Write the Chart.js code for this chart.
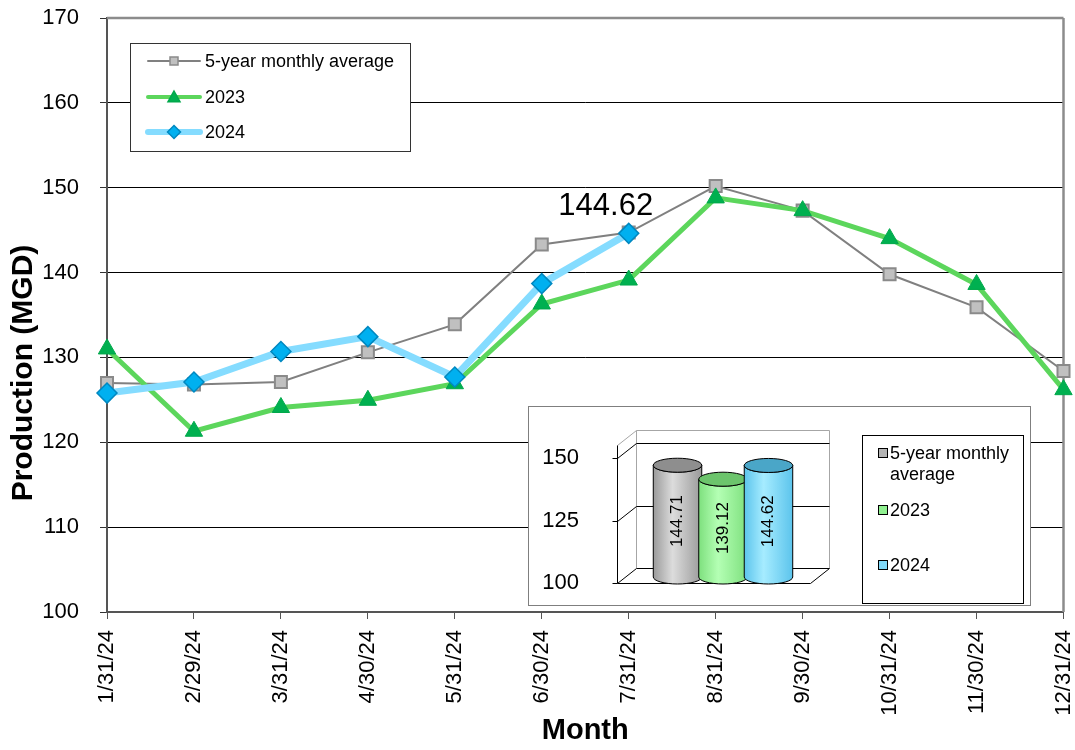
<!DOCTYPE html>
<html>
<head>
<meta charset="utf-8">
<title>Production (MGD)</title>
<script src="https://cdn.jsdelivr.net/npm/chart.js"></script>
<style>
  body { margin: 0; background: #fff; }
  #wrap { position: relative; width: 1075px; height: 750px; }
  #inset { position: absolute; left: 528px; top: 406px; width: 503px; height: 200px;
           box-sizing: border-box; border: 1px solid #7f7f7f; background: #fff; }
  #inset canvas { display: block; }
</style>
</head>
<body>
<div id="wrap">
  <canvas id="main" width="1075" height="750"></canvas>
  <div id="inset"><canvas id="mini" width="501" height="198"></canvas></div>
</div>
<script>
'use strict';

// --- data ---
const months = ['1/31/24', '2/29/24', '3/31/24', '4/30/24', '5/31/24', '6/30/24',
                '7/31/24', '8/31/24', '9/30/24', '10/31/24', '11/30/24', '12/31/24'];
const avg5 = [127.0, 126.8, 127.1, 130.6, 133.9, 143.3, 144.71, 150.2, 147.3, 139.8, 135.9, 128.4];
const y2023 = [131.0, 121.3, 124.1, 124.95, 126.9, 136.3, 139.12, 148.8, 147.3, 144.0, 138.6, 126.2];
const y2024 = [125.8, 127.1, 130.7, 132.45, 127.7, 138.7, 144.62, null, null, null, null, null];
const seriesNames = ['5-year monthly average', '2023', '2024'];
const yTicks = [100, 110, 120, 130, 140, 150, 160, 170];
const labelIndex = 6; // month that carries the value label

const insetValues = [144.71, 139.12, 144.62];
const insetNames = [['5-year monthly', 'average'], ['2023'], ['2024']];
const insetTicks = [100, 125, 150];

const FONT = '"Liberation Sans", Arial, Helvetica, sans-serif';
Chart.defaults.font.family = FONT;
Chart.defaults.color = '#000';

function $(id) { return document.getElementById(id); }

function line(ctx, x1, y1, x2, y2) {
  ctx.beginPath();
  ctx.moveTo(x1, y1);
  ctx.lineTo(x2, y2);
  ctx.stroke();
}

function marker(ctx, style, x, y, r, fill, stroke, lw) {
  ctx.save();
  ctx.fillStyle = fill;
  ctx.strokeStyle = stroke;
  ctx.lineWidth = lw;
  ctx.beginPath();
  if (style === 'rect') {
    ctx.rect(x - r, y - r, r * 2, r * 2);
  } else if (style === 'triangle') {
    ctx.moveTo(x, y - r);
    ctx.lineTo(x + r, y + r * 0.8);
    ctx.lineTo(x - r, y + r * 0.8);
    ctx.closePath();
  } else {
    ctx.moveTo(x, y - r);
    ctx.lineTo(x + r, y);
    ctx.lineTo(x, y + r);
    ctx.lineTo(x - r, y);
    ctx.closePath();
  }
  ctx.fill();
  ctx.stroke();
  ctx.restore();
}

// --- main line chart ---
const mainExtras = {
  id: 'mainExtras',
  beforeDatasetsDraw(chart) {
    const { ctx, chartArea: a } = chart;
    ctx.save();
    ctx.strokeStyle = '#8c8c8c';
    ctx.lineWidth = 2.5;
    line(ctx, a.left, a.top, a.right, a.top);
    line(ctx, a.right, a.top, a.right, a.bottom);
    ctx.restore();
  },
  afterDatasetsDraw(chart) {
    const { ctx } = chart;
    const pt = chart.getDatasetMeta(2).data[labelIndex];
    ctx.save();
    ctx.font = '31px ' + FONT;
    ctx.fillStyle = '#000';
    ctx.textAlign = 'center';
    ctx.textBaseline = 'middle';
    ctx.fillText(y2024[labelIndex].toFixed(2), pt.x - 23, pt.y - 27);
    ctx.restore();
  },
  afterDraw(chart) {
    const { ctx } = chart;
    ctx.save();
    // y axis title
    ctx.translate(24, 373);
    ctx.rotate(-Math.PI / 2);
    ctx.font = 'bold 30px ' + FONT;
    ctx.fillStyle = '#000';
    ctx.textAlign = 'center';
    ctx.textBaseline = 'middle';
    ctx.fillText('Production (MGD)', 0, 0);
    ctx.restore();

    // legend box
    ctx.save();
    ctx.fillStyle = '#fff';
    ctx.fillRect(130, 43, 280, 108);
    ctx.strokeStyle = '#333';
    ctx.lineWidth = 1;
    ctx.strokeRect(130.5, 43.5, 280, 108);
    const rows = [61, 97, 132];
    const lw = [2, 4, 6];
    const mr = [4, 6, 6.5];
    chart.data.datasets.forEach((ds, i) => {
      const y = rows[i];
      ctx.strokeStyle = ds.borderColor;
      ctx.lineWidth = lw[i];
      ctx.lineCap = 'round';
      line(ctx, 148, y, 200, y);
      marker(ctx, ds.pointStyle, 174, y, mr[i], ds.pointBackgroundColor, ds.pointBorderColor, 1.5);
      ctx.font = '18px ' + FONT;
      ctx.fillStyle = '#000';
      ctx.textBaseline = 'middle';
      ctx.fillText(ds.label, 205, y + 1);
    });
    ctx.restore();
  }
};

new Chart($('main'), {
  type: 'line',
  data: {
    labels: months,
    datasets: [
      { label: seriesNames[0], data: avg5, order: 3, clip: false,
        borderColor: '#808080', borderWidth: 2,
        pointStyle: 'rect', pointRadius: 8.5, pointHoverRadius: 8.5,
        pointBackgroundColor: '#c0c0c0', pointBorderColor: '#8a8a8a', pointBorderWidth: 2 },
      { label: seriesNames[1], data: y2023, order: 2, clip: false,
        borderColor: '#5cd65c', borderWidth: 5,
        pointStyle: 'triangle', pointRadius: 10, pointHoverRadius: 10,
        pointBackgroundColor: '#00b050', pointBorderColor: '#00a84b', pointBorderWidth: 1 },
      { label: seriesNames[2], data: y2024, order: 1, clip: false,
        borderColor: '#85dcff', borderWidth: 7,
        pointStyle: 'rectRot', pointRadius: 10, pointHoverRadius: 10,
        pointBackgroundColor: '#00b0f0', pointBorderColor: '#0088c0', pointBorderWidth: 1.5 }
    ]
  },
  options: {
    responsive: false,
    animation: false,
    layout: { padding: { left: 0, right: 8, top: 18, bottom: 0 } },
    scales: {
      x: {
        afterFit: a => { a.height = 138; a.paddingLeft = 0; a.paddingRight = 0; },
        grid: { drawOnChartArea: false, drawTicks: true, tickLength: 7, tickColor: '#555' },
        border: { color: '#555', width: 2 },
        ticks: { autoSkip: false, minRotation: 90, maxRotation: 90, padding: 11,
                 font: { size: 22 }, color: '#000' },
        title: { display: true, text: 'Month', font: { size: 29, weight: 'bold' },
                 color: '#000', padding: { top: 0, bottom: 2 } }
      },
      y: {
        min: 100,
        max: 170,
        afterBuildTicks: a => { a.ticks = yTicks.map(v => ({ value: v })); },
        afterFit: a => { a.width = 107; a.paddingTop = 0; a.paddingBottom = 0; },
        grid: { color: '#000', lineWidth: 1, tickLength: 7, tickColor: '#333' },
        border: { color: '#555', width: 2 },
        ticks: { padding: 21, font: { size: 22 }, color: '#000' }
      }
    },
    plugins: { legend: { display: false }, tooltip: { enabled: false } }
  },
  plugins: [mainExtras]
});

// --- inset cylinder chart ---
const CYL = [
  { dark: '#9a9a9a', light: '#dcdcdc', top: '#8e8e8e', key: '#b4b4b4' },
  { dark: '#7ee07e', light: '#b4ffb4', top: '#6cc46c', key: '#90f090' },
  { dark: '#5cc4ec', light: '#a6ecff', top: '#4aa6c8', key: '#7fd8f8' }
];
const DX = 19;
const DY = -15;

function drawCylinder(ctx, cx, top, base, w, c, text) {
  const rx = w / 2;
  const ry = 7;
  const g = ctx.createLinearGradient(cx - rx, 0, cx + rx, 0);
  g.addColorStop(0, c.dark);
  g.addColorStop(0.4, c.light);
  g.addColorStop(1, c.dark);
  ctx.save();
  ctx.strokeStyle = '#000';
  ctx.lineWidth = 1;
  ctx.beginPath();
  ctx.moveTo(cx - rx, top);
  ctx.lineTo(cx - rx, base);
  ctx.ellipse(cx, base, rx, ry, 0, Math.PI, 0, true);
  ctx.lineTo(cx + rx, top);
  ctx.ellipse(cx, top, rx, ry, 0, 0, Math.PI, false);
  ctx.closePath();
  ctx.fillStyle = g;
  ctx.fill();
  ctx.stroke();
  ctx.beginPath();
  ctx.ellipse(cx, top, rx, ry, 0, 0, Math.PI * 2);
  ctx.fillStyle = c.top;
  ctx.fill();
  ctx.stroke();
  ctx.translate(cx, (top + base) / 2);
  ctx.rotate(-Math.PI / 2);
  ctx.font = '17px ' + FONT;
  ctx.fillStyle = '#000';
  ctx.textAlign = 'center';
  ctx.textBaseline = 'middle';
  ctx.fillText(text, 0, 0);
  ctx.restore();
}

const insetExtras = {
  id: 'insetExtras',
  beforeDatasetsDraw(chart) {
    const { ctx, chartArea: a } = chart;
    const ys = chart.scales.y;
    const top = ys.getPixelForValue(ys.max);
    const bot = ys.getPixelForValue(ys.min);
    const L = a.left + 0.5;
    const R = a.right + 0.5;
    ctx.save();
    ctx.lineWidth = 1;
    ctx.strokeStyle = '#a6a6a6';
    line(ctx, L, top, L + DX, top + DY);
    line(ctx, L + DX, top + DY, R + DX, top + DY);
    line(ctx, R + DX, top + DY, R + DX, bot + DY);
    line(ctx, L + DX, top + DY, L + DX, bot + DY);
    ctx.strokeStyle = '#000';
    line(ctx, L, top, L, bot);
    insetTicks.forEach(v => {
      const y = Math.round(ys.getPixelForValue(v)) + 0.5;
      line(ctx, L - 5, y, L, y);
      if (v !== ys.min) {
        line(ctx, L, y, L + DX, y + DY);
        line(ctx, L + DX, y + DY, R + DX, y + DY);
      }
    });
    const b = Math.round(bot) + 0.5;
    line(ctx, L, b, R, b);
    line(ctx, R, b, R + DX, b + DY);
    line(ctx, L, b, L + DX, b + DY);
    line(ctx, L + DX, b + DY, R + DX, b + DY);
    ctx.restore();
  },
  afterDatasetsDraw(chart) {
    const { ctx } = chart;
    chart.data.datasets.forEach((ds, i) => {
      const el = chart.getDatasetMeta(i).data[0];
      drawCylinder(ctx, el.x + DX / 2, el.y + DY * 0.4, el.base + DY * 0.4,
                   el.width + 3, CYL[i], insetValues[i].toFixed(2));
    });
  },
  afterDraw(chart) {
    const { ctx } = chart;
    ctx.save();
    ctx.strokeStyle = '#000';
    ctx.lineWidth = 1;
    ctx.strokeRect(333.5, 28.5, 161, 168);
    const rows = [46, 103, 158];
    insetNames.forEach((lines, i) => {
      const y = rows[i];
      ctx.fillStyle = CYL[i].key;
      ctx.fillRect(349.5, y - 4.5, 9, 9);
      ctx.strokeRect(349.5, y - 4.5, 9, 9);
      ctx.font = '18px ' + FONT;
      ctx.fillStyle = '#000';
      ctx.textBaseline = 'middle';
      lines.forEach((t, j) => ctx.fillText(t, 361, y + 1 + j * 21));
    });
    ctx.restore();
  }
};

new Chart($('mini'), {
  type: 'bar',
  data: {
    labels: [''],
    datasets: insetValues.map((v, i) => ({
      label: insetNames[i].join(' '),
      data: [v],
      base: insetTicks[0],
      backgroundColor: 'rgba(0,0,0,0)',
      categoryPercentage: 0.707,
      barPercentage: 1
    }))
  },
  options: {
    responsive: false,
    animation: false,
    layout: { padding: { left: 0, right: 220, top: 38.5, bottom: 22 } },
    scales: {
      x: { display: false },
      y: {
        min: 100,
        max: 155,
        afterBuildTicks: a => { a.ticks = insetTicks.map(v => ({ value: v })); },
        afterFit: a => { a.width = 88; a.paddingTop = 0; a.paddingBottom = 0; },
        grid: { display: false },
        border: { display: false },
        ticks: { padding: 30, font: { size: 22 }, color: '#000' }
      }
    },
    plugins: { legend: { display: false }, tooltip: { enabled: false } }
  },
  plugins: [insetExtras]
});
</script>
</body>
</html>
